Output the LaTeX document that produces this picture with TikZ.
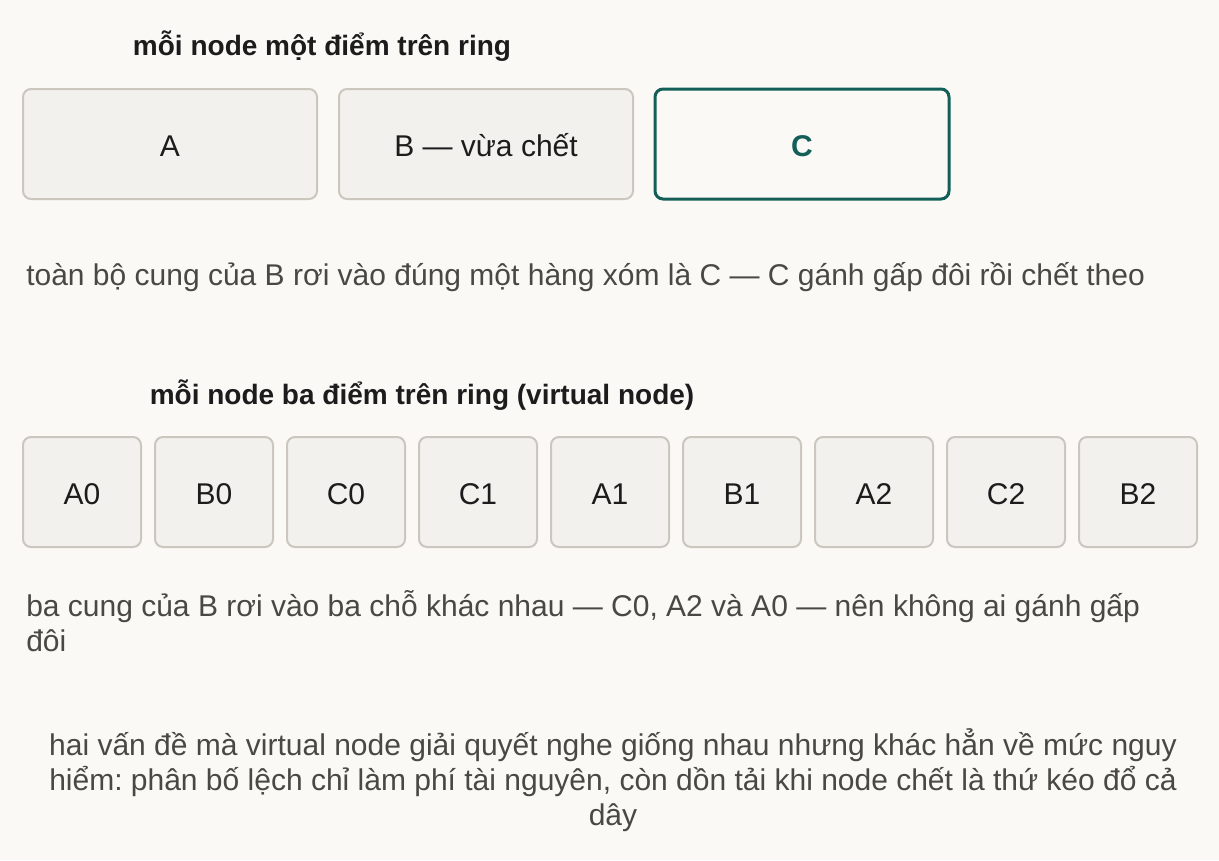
\documentclass[tikz,border=0pt]{standalone}
\usepackage{fontspec}
\setmainfont{Liberation Sans}
\usetikzlibrary{positioning}
\frenchspacing

\definecolor{pagebg}{HTML}{FAF9F6}
\definecolor{boxfill}{HTML}{F2F1ED}
\definecolor{boxline}{HTML}{CBC7BF}
\definecolor{inktext}{HTML}{1C1C1C}
\definecolor{bodytext}{HTML}{4A4843}
\definecolor{teal}{HTML}{135E57}

\begin{document}
\begin{tikzpicture}[
            x=0.75pt, y=-0.75pt,
            txt/.style={font=\fontsize{22.5}{26.25}\selectfont, inner sep=0pt},
            title/.style={inner sep=0pt, font=\fontsize{21}{26.25}\selectfont\bfseries, text=inktext, anchor=base},
            note/.style={txt, text=bodytext, anchor=base west, align=left},
            ringnode/.style={rectangle, draw=boxline, fill=boxfill, line width=1.5pt, rounded corners=6pt,
                txt, text=inktext, text height=18pt, text depth=0pt, minimum height=82.5pt},
            bignode/.style={ringnode, minimum width=220.5pt},
            vnode/.style={ringnode, minimum width=88.5pt},
            hotnode/.style={bignode, draw=teal, fill=pagebg, line width=2.25pt, text=teal, font=\fontsize{22.5}{26.25}\selectfont\bfseries}
        ]
            \fill[pagebg] (0,0) rectangle (1219,860);
            \useasboundingbox (0,0) rectangle (1219,860);

            % mot diem moi node
            \node[title] (title1) at (322,55) {mỗi node một điểm trên ring};
            \node[bignode] (A) at (170,144) {A};
            \node[bignode] (B) at (486,144) {B — vừa chết};
            \node[hotnode] (C) at (802,144) {C};
            \node[note] (note1) at (26,285) {toàn bộ cung của B rơi vào đúng một hàng xóm là C — C gánh gấp đôi rồi chết theo};

            % virtual node
            \node[title] (title2) at (422,404) {mỗi node ba điểm trên ring (virtual node)};
            \node[vnode] (A0) at (82,492) {A0};
            \node[vnode] (B0) at (214,492) {B0};
            \node[vnode] (C0) at (346,492) {C0};
            \node[vnode] (C1) at (478,492) {C1};
            \node[vnode] (A1) at (610,492) {A1};
            \node[vnode] (B1) at (742,492) {B1};
            \node[vnode] (A2) at (874,492) {A2};
            \node[vnode] (C2) at (1006,492) {C2};
            \node[vnode] (B2) at (1138,492) {B2};
            \node[note] (note2) at (26,651) {ba cung của B rơi vào ba chỗ khác nhau — C0, A2 và A0 — nên không ai gánh gấp\\đôi};

            \node[txt, text=bodytext, anchor=base, align=center] (summary) at (613,825)
                {hai vấn đề mà virtual node giải quyết nghe giống nhau nhưng khác hẳn về mức nguy\\
                 hiểm: phân bố lệch chỉ làm phí tài nguyên, còn dồn tải khi node chết là thứ kéo đổ cả\\
                 dây};
        \end{tikzpicture}
\end{document}
